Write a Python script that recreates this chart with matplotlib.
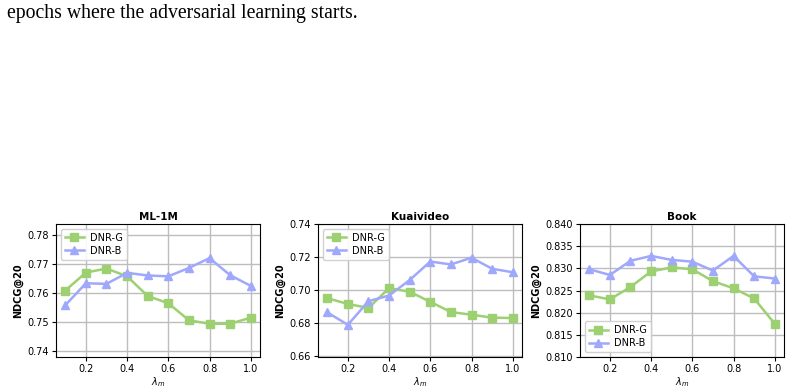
import matplotlib
matplotlib.use("Agg")
import matplotlib.pyplot as plt
from matplotlib.ticker import FormatStrFormatter

lam = [0.1, 0.2, 0.3, 0.4, 0.5, 0.6, 0.7, 0.8, 0.9, 1.0]

ml_g = [0.7608, 0.7670, 0.7684, 0.7657, 0.7589, 0.7564, 0.7505, 0.7493, 0.7493, 0.7514]
ml_b = [0.7557, 0.7633, 0.7631, 0.7669, 0.7660, 0.7657, 0.7686, 0.7720, 0.7661, 0.7624]

kv_g = [0.6951, 0.6916, 0.6892, 0.7012, 0.6990, 0.6929, 0.6867, 0.6851, 0.6833, 0.6831]
kv_b = [0.6865, 0.6790, 0.6933, 0.6967, 0.7061, 0.7173, 0.7155, 0.7196, 0.7129, 0.7108]

bk_g = [0.8239, 0.8230, 0.8258, 0.8293, 0.8302, 0.8298, 0.8271, 0.8255, 0.8232, 0.8175]
bk_b = [0.8298, 0.8285, 0.8317, 0.8328, 0.8319, 0.8315, 0.8295, 0.8328, 0.8282, 0.8277]

titles = ["ML-1M", "Kuaivideo", "Book"]
ylims = [(0.7378, 0.7838), (0.6595, 0.7400), (0.8100, 0.8400)]
yticks = [[0.74, 0.75, 0.76, 0.77, 0.78],
          [0.66, 0.68, 0.70, 0.72, 0.74],
          [0.810, 0.815, 0.820, 0.825, 0.830, 0.835, 0.840]]
yfmt = ["%.2f", "%.2f", "%.3f"]
legend_loc = ["upper left", "upper left", "lower left"]
series = [(ml_g, ml_b), (kv_g, kv_b), (bk_g, bk_b)]

GREEN = "#9dd071"
BLUE = "#a0a8fb"

fig = plt.figure(figsize=(7.95, 3.91), dpi=100)
fig.text(0.009, 0.99, "epochs where the adversarial learning starts.",
         family="Liberation Serif", fontsize=14.2, va="top", ha="left")

lefts = [56, 318, 580]
for i in range(3):
    ax = fig.add_axes([lefts[i] / 795, (391 - 357) / 391, 204 / 795, 133 / 391])
    g, b = series[i]
    ax.plot(lam, g, "-s", color=GREEN, lw=1.8, ms=5.5, label="DNR-G")
    ax.plot(lam, b, "-^", color=BLUE, lw=1.8, ms=5.5, label="DNR-B")
    ax.set_ylim(*ylims[i])
    ax.set_yticks(yticks[i])
    ax.yaxis.set_major_formatter(FormatStrFormatter(yfmt[i]))
    ax.set_xticks([0.2, 0.4, 0.6, 0.8, 1.0])
    ax.grid(True, color="#bdbdbd", lw=1.0)
    ax.set_axisbelow(True)
    ax.tick_params(labelsize=7, length=3, width=0.8, pad=2)
    ax.set_title(titles[i], fontsize=7.5, fontweight="bold", pad=3)
    ax.set_ylabel("NDCG@20", fontsize=7, fontweight="bold", labelpad=3)
    ax.set_xlabel(r"$\lambda_m$", fontsize=7, labelpad=1)
    ax.legend(loc=legend_loc[i], fontsize=7, handlelength=2.0,
              borderpad=0.4, labelspacing=0.3, handletextpad=0.6, framealpha=0.9)

fig.savefig("out.png", dpi=100)
